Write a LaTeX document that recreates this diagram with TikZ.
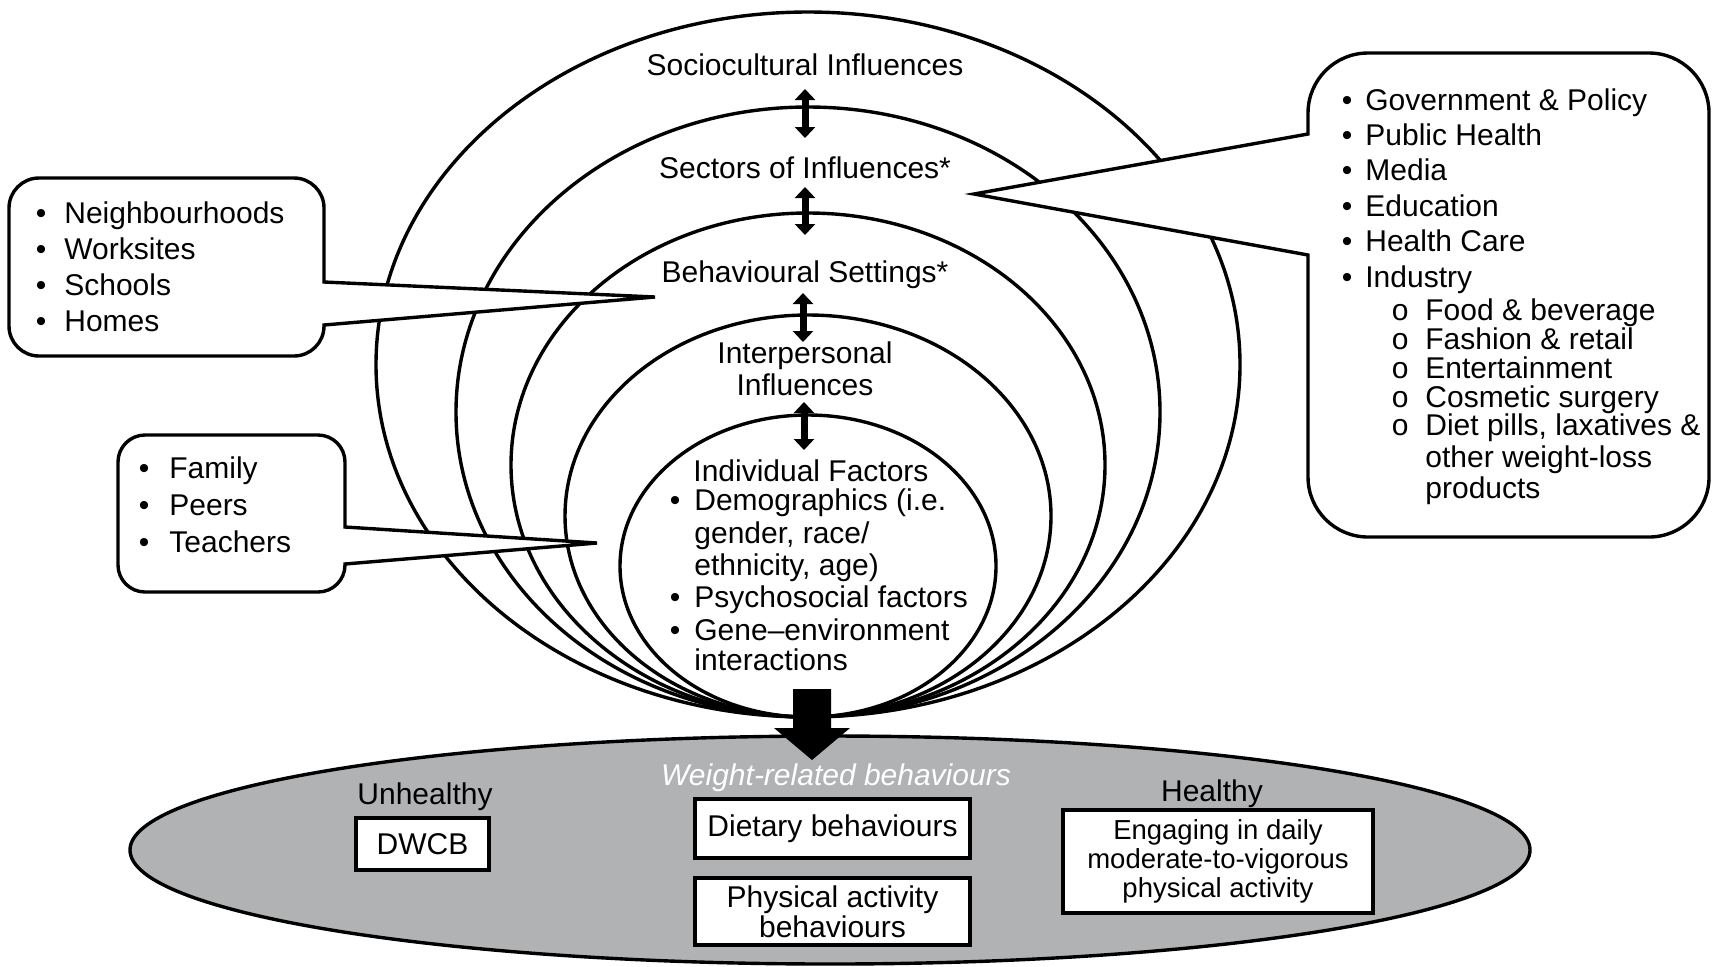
\documentclass[tikz,border=0pt]{standalone}
\usepackage{fontspec}
\setmainfont{Liberation Sans}
\usetikzlibrary{arrows.meta}
\definecolor{ovalgray}{RGB}{177,178,180}
\newcommand{\mybul}[1]{\llap{•\hspace{#1}}}
\newcommand{\mysubo}{\llap{o\hspace{8.4pt}}}

\begin{document}
\begin{tikzpicture}[x=0.5pt, y=-0.5pt,
  txt/.style={inner sep=0pt, font=\fontsize{15}{15}\selectfont},
  ring/.style={line width=1.7pt},
  callout/.style={line width=1.7pt, fill=white, line join=miter},
  dblarrow/.style={line width=3.5pt, {Triangle[width=10pt,length=5.5pt]}-{Triangle[width=10pt,length=5.5pt]}},
  bbox/.style={draw, line width=2.2pt, fill=white, inner sep=0pt, align=center, font=\fontsize{15}{15}\selectfont},
]
\useasboundingbox (0,0) rectangle (1717,966);

% bottom oval
\draw[line width=1.7pt, fill=ovalgray] (830,850) ellipse [x radius=700, y radius=114];

% nested rings
\foreach \cy/\a/\b in {364.5/432/352.5, 412/352/305, 465/297/252, 516/243/201, 566/188/151}
  \draw[ring] (808,\cy) ellipse [x radius=\a, y radius=\b];

% callout A
\draw[callout] (324,282) -- (655,297) -- (324,325) -- (324,326)
  arc[start angle=0,end angle=90,radius=30] -- (39,356)
  arc[start angle=90,end angle=180,radius=30] -- (9,208)
  arc[start angle=180,end angle=270,radius=30] -- (294,178)
  arc[start angle=270,end angle=360,radius=30] -- cycle;
% callout B
\draw[callout] (345,527) -- (597,543) -- (345,564) -- (345,565)
  arc[start angle=0,end angle=90,radius=27] -- (145,592)
  arc[start angle=90,end angle=180,radius=27] -- (118,462)
  arc[start angle=180,end angle=270,radius=27] -- (318,435)
  arc[start angle=270,end angle=360,radius=27] -- cycle;
% callout C
\draw[callout] (1308,134) -- (974,194) -- (1308,255) -- (1308,477)
  arc[start angle=180,end angle=90,radius=60] -- (1649,537)
  arc[start angle=90,end angle=0,radius=60] -- (1709,113)
  arc[start angle=0,end angle=-90,radius=60] -- (1368,53)
  arc[start angle=270,end angle=180,radius=60] -- cycle;

% ring labels
\node[txt, anchor=base] (soc) at (805,75) {Sociocultural Influences};
\node[txt, anchor=base] (sec) at (805,178) {Sectors of Influences*};
\node[txt, anchor=base] (beh) at (805,282) {Behavioural Settings*};
\node[txt, anchor=base] (int1) at (805,363) {Interpersonal};
\node[txt, anchor=base] (int2) at (805,395) {Influences};
\node[txt, anchor=base west] (ind) at (693,481) {Individual Factors};
\node[txt, anchor=base west] (ind1) at (694,510) {\mybul{7pt}Demographics (i.e.};
\node[txt, anchor=base west] (ind2) at (694,543) {gender, race/};
\node[txt, anchor=base west] (ind3) at (694,575) {ethnicity, age)};
\node[txt, anchor=base west] (ind4) at (694,607) {\mybul{7pt}Psychosocial factors};
\node[txt, anchor=base west] (ind5) at (694,640) {\mybul{7pt}Gene–environment};
\node[txt, anchor=base west] (ind6) at (694,670) {interactions};

% double arrows
\coordinate (a1s) at (805,89);  \coordinate (a1e) at (805,138);
\coordinate (a2s) at (805,187); \coordinate (a2e) at (805,235);
\coordinate (a3s) at (803,293); \coordinate (a3e) at (803,342);
\coordinate (a4s) at (804,402); \coordinate (a4e) at (804,450);
\draw[dblarrow] (a1s) -- (a1e);
\draw[dblarrow] (a2s) -- (a2e);
\draw[dblarrow] (a3s) -- (a3e);
\draw[dblarrow] (a4s) -- (a4e);

% callout texts
\foreach \t [count=\i] in {Neighbourhoods,Worksites,Schools,Homes}
  \node[txt, anchor=base west] (nb\i) at (64,{223+(\i-1)*36.3}) {\mybul{9pt}\t};
\foreach \t [count=\i] in {Family,Peers,Teachers}
  \node[txt, anchor=base west] (fp\i) at (169,{478+(\i-1)*37}) {\mybul{10pt}\t};
\foreach \t [count=\i] in {Government \& Policy,Public Health,Media,Education,Health Care,Industry}
  \node[txt, anchor=base west] (sc\i) at (1365,{110+(\i-1)*35.4}) {\mybul{6.5pt}\t};
\node[txt, anchor=base west] (ss1) at (1425,320) {\mysubo Food \& beverage};
\node[txt, anchor=base west] (ss2) at (1425,349) {\mysubo Fashion \& retail};
\node[txt, anchor=base west] (ss3) at (1425,378) {\mysubo Entertainment};
\node[txt, anchor=base west] (ss4) at (1425,407) {\mysubo Cosmetic surgery};
\node[txt, anchor=base west] (ss5) at (1425,435) {\mysubo Diet pills, laxatives \&};
\node[txt, anchor=base west] (ss6) at (1425,467) {other weight-loss};
\node[txt, anchor=base west] (ss7) at (1425,498) {products};

% big arrow
\fill (793,689) -- (831,689) -- (831,728) -- (850,728) -- (812,760) -- (774,728) -- (793,728) -- cycle;

% bottom contents
\node[txt, anchor=base, text=white, font=\fontsize{15}{15}\selectfont\itshape] (wrb) at (836,785) {Weight-related behaviours};
\node[txt, anchor=base] (unh) at (425,804) {Unhealthy};
\node[txt, anchor=base] (hea) at (1212,801) {Healthy};
\node[bbox, minimum width=66.5pt, minimum height=26pt] (dwcb) at (422.5,844) {DWCB};
\node[bbox, minimum width=137.5pt, minimum height=29.5pt] (diet) at (832.5,828.5) {Dietary behaviours};
\node[bbox, minimum width=137.5pt, minimum height=33.5pt] (phys) at (832.5,911.5) {Physical activity\\behaviours};
\node[bbox, minimum width=155pt, minimum height=51.5pt, font=\fontsize{13.75}{14.5}\selectfont] (eng) at (1218,861.5) {Engaging in daily\\moderate-to-vigorous\\physical activity};
\end{tikzpicture}
\end{document}
